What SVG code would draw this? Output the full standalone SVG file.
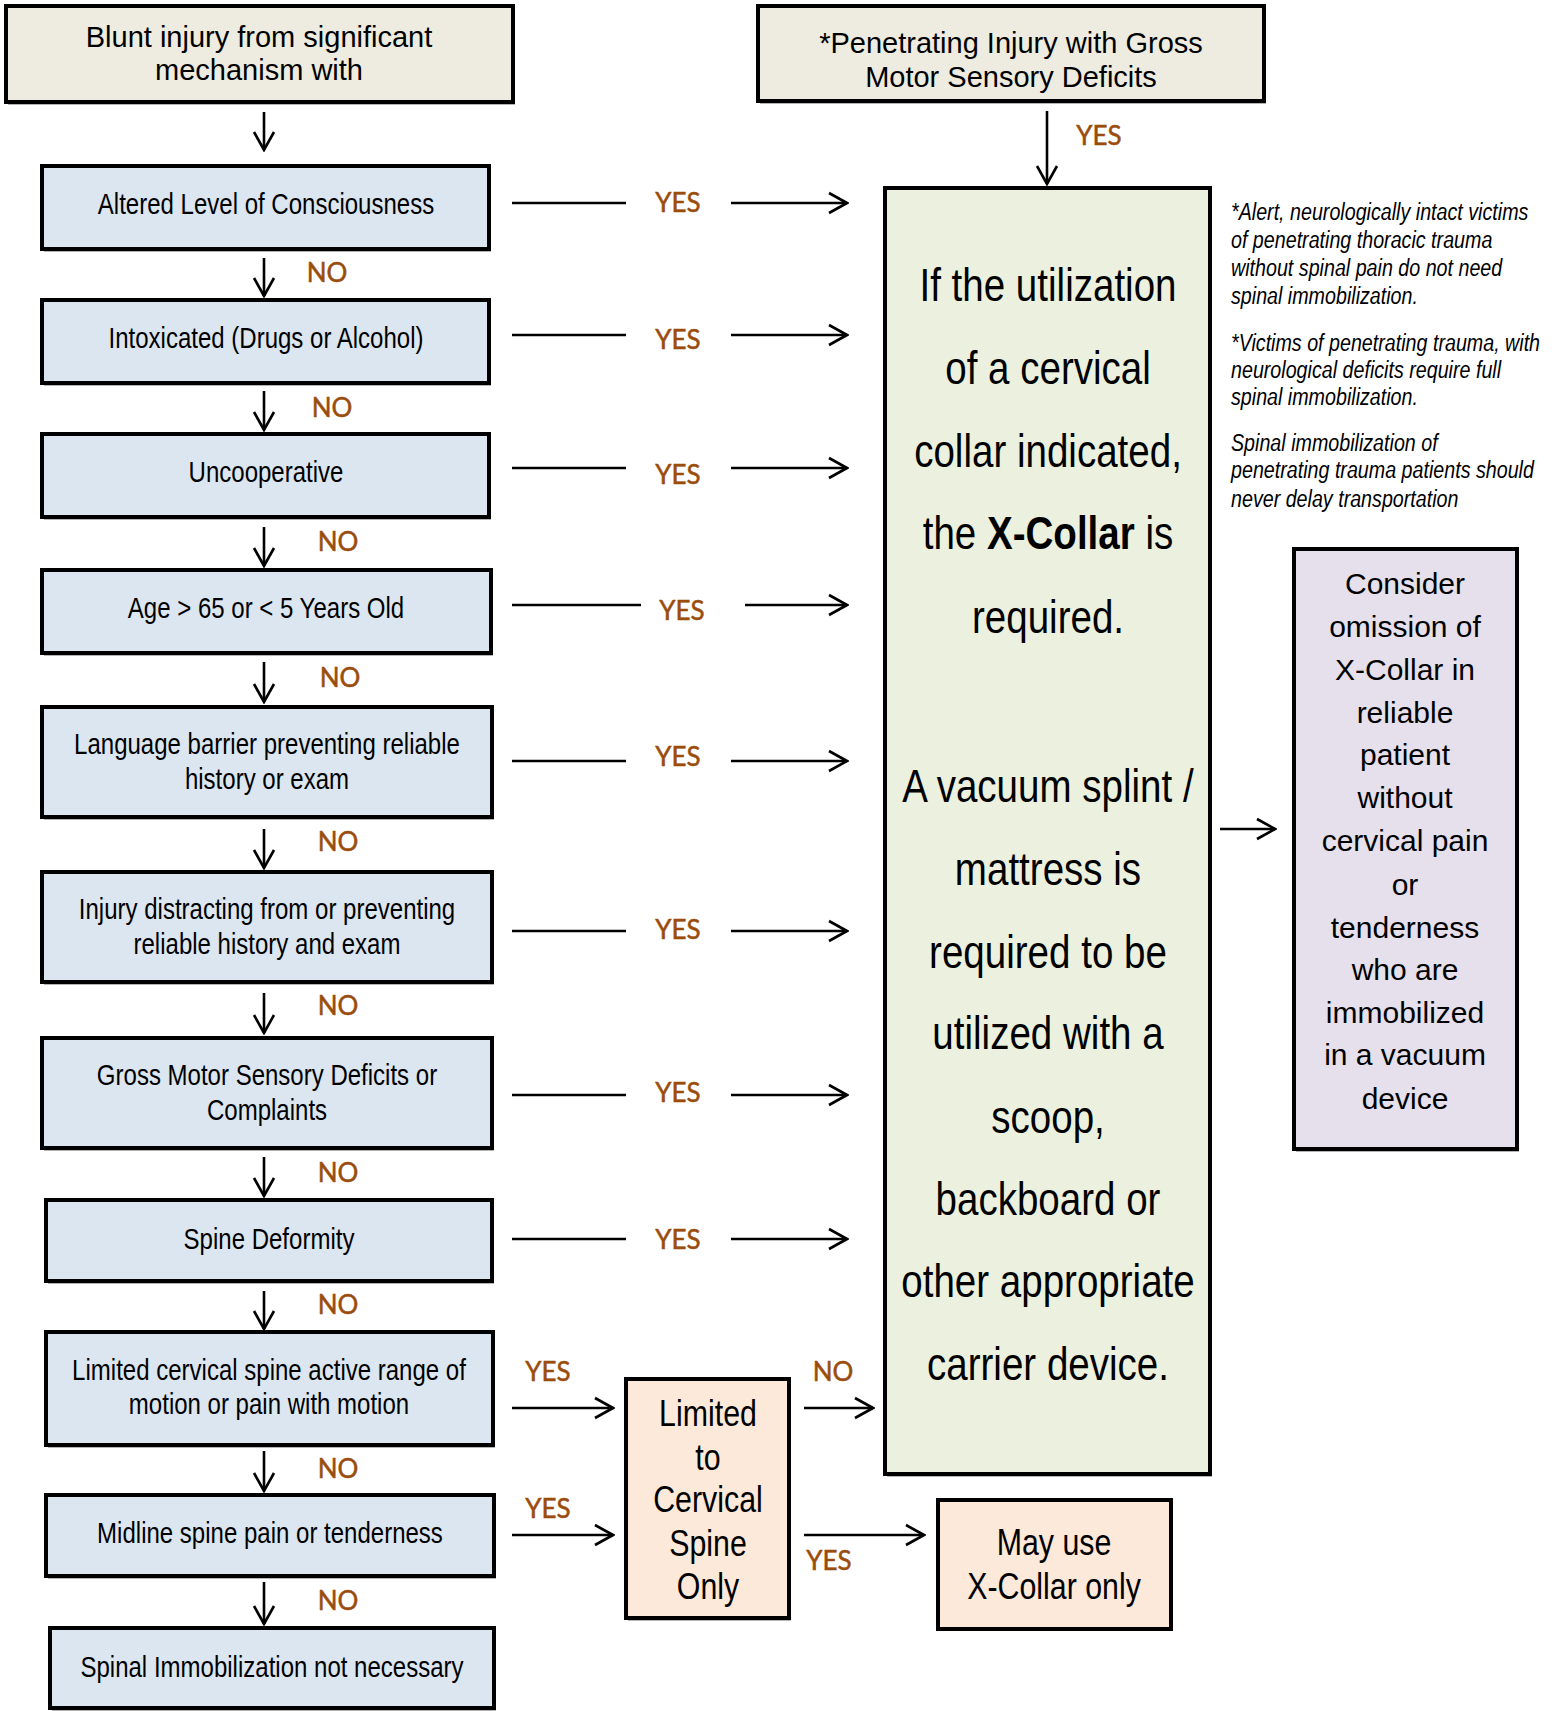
<svg xmlns="http://www.w3.org/2000/svg" width="1554" height="1711" viewBox="0 0 1554 1711">
<defs>
<marker id="ah" markerUnits="userSpaceOnUse" markerWidth="22" markerHeight="24" viewBox="0 0 22 24" refX="20" refY="12" orient="auto">
<path d="M2,2 L20,12 L2,22" fill="none" stroke="#000" stroke-width="2.6"/>
</marker>
<style>
.box{stroke:#000;stroke-width:4}
.sh{fill:#b4b4b4}
.beige{fill:#eeece1}
.blue{fill:#dce6f1}
.green{fill:#ebf1de}
.purple{fill:#e5e0ec}
.peach{fill:#fde9d9}
.t{font-family:"Liberation Sans",Arial,sans-serif;fill:#000;text-anchor:middle}
.n{font-family:"Liberation Sans",Arial,sans-serif;fill:#000;text-anchor:middle}
.nt{font-family:"Liberation Sans",Arial,sans-serif;fill:#000;font-style:italic;font-size:24px}
.lb{font-family:Lato,"Open Sans",sans-serif;fill:#9a4c0c;stroke:#9a4c0c;stroke-width:0.5;font-size:26px;text-anchor:middle}
.c{stroke:#000;stroke-width:2.6;fill:none}
.ca{stroke:#000;stroke-width:2.6;fill:none;marker-end:url(#ah)}
</style>
</defs>

<g id="n-blunt">
<rect class="sh" x="8" y="9" width="507" height="96"/>
<rect class="box beige" x="6" y="6" width="507" height="96"/>
<text class="t" font-size="29" x="259" y="47">Blunt injury from significant</text>
<text class="t" font-size="29" x="259" y="80">mechanism with</text>
</g>
<g id="n-penetrating">
<rect class="sh" x="760" y="9" width="506" height="95"/>
<rect class="box beige" x="758" y="6" width="506" height="95"/>
<text class="t" font-size="29" x="1011" y="53">*Penetrating Injury with Gross</text>
<text class="t" font-size="29" x="1011" y="87">Motor Sensory Deficits</text>
</g>

<g id="n-altered">
<rect class="sh" x="44" y="169" width="447" height="83"/>
<rect class="box blue" x="42" y="166" width="447" height="83"/>
<g transform="translate(266,0) scale(0.82,1)"><text class="n" font-size="29.3" x="0" y="214">Altered Level of Consciousness</text></g>
</g>
<g id="n-intox">
<rect class="sh" x="44" y="303" width="447" height="83"/>
<rect class="box blue" x="42" y="300" width="447" height="83"/>
<g transform="translate(266,0) scale(0.82,1)"><text class="n" font-size="29.3" x="0" y="348">Intoxicated (Drugs or Alcohol)</text></g>
</g>
<g id="n-uncoop">
<rect class="sh" x="44" y="437" width="447" height="83"/>
<rect class="box blue" x="42" y="434" width="447" height="83"/>
<g transform="translate(266,0) scale(0.82,1)"><text class="n" font-size="29.3" x="0" y="482">Uncooperative</text></g>
</g>
<g id="n-age">
<rect class="sh" x="44" y="573" width="449" height="83"/>
<rect class="box blue" x="42" y="570" width="449" height="83"/>
<g transform="translate(266,0) scale(0.82,1)"><text class="n" font-size="29.3" x="0" y="618">Age &gt; 65 or &lt; 5 Years Old</text></g>
</g>
<g id="n-language">
<rect class="sh" x="44" y="710" width="450" height="110"/>
<rect class="box blue" x="42" y="707" width="450" height="110"/>
<g transform="translate(267,0) scale(0.82,1)">
<text class="n" font-size="29.3" x="0" y="754">Language barrier preventing reliable</text>
<text class="n" font-size="29.3" x="0" y="789">history or exam</text>
</g>
</g>
<g id="n-distracting">
<rect class="sh" x="44" y="875" width="450" height="110"/>
<rect class="box blue" x="42" y="872" width="450" height="110"/>
<g transform="translate(267,0) scale(0.82,1)">
<text class="n" font-size="29.3" x="0" y="919">Injury distracting from or preventing</text>
<text class="n" font-size="29.3" x="0" y="954">reliable history and exam</text>
</g>
</g>
<g id="n-gross">
<rect class="sh" x="44" y="1041" width="450" height="110"/>
<rect class="box blue" x="42" y="1038" width="450" height="110"/>
<g transform="translate(267,0) scale(0.82,1)">
<text class="n" font-size="29.3" x="0" y="1085">Gross Motor Sensory Deficits or</text>
<text class="n" font-size="29.3" x="0" y="1120">Complaints</text>
</g>
</g>
<g id="n-deformity">
<rect class="sh" x="48" y="1203" width="446" height="81"/>
<rect class="box blue" x="46" y="1200" width="446" height="81"/>
<g transform="translate(269,0) scale(0.82,1)"><text class="n" font-size="29.3" x="0" y="1249">Spine Deformity</text></g>
</g>
<g id="n-limitedrom">
<rect class="sh" x="48" y="1335" width="447" height="113"/>
<rect class="box blue" x="46" y="1332" width="447" height="113"/>
<g transform="translate(269,0) scale(0.82,1)">
<text class="n" font-size="29.3" x="0" y="1380">Limited cervical spine active range of</text>
<text class="n" font-size="29.3" x="0" y="1414">motion or pain with motion</text>
</g>
</g>
<g id="n-midline">
<rect class="sh" x="48" y="1498" width="448" height="81"/>
<rect class="box blue" x="46" y="1495" width="448" height="81"/>
<g transform="translate(270,0) scale(0.82,1)"><text class="n" font-size="29.3" x="0" y="1543">Midline spine pain or tenderness</text></g>
</g>
<g id="n-notnecessary">
<rect class="sh" x="52" y="1631" width="444" height="80"/>
<rect class="box blue" x="50" y="1628" width="444" height="80"/>
<g transform="translate(272,0) scale(0.82,1)"><text class="n" font-size="29.3" x="0" y="1677">Spinal Immobilization not necessary</text></g>
</g>

<g id="n-xcollar-required">
<rect class="sh" x="887" y="191" width="325" height="1286"/>
<rect class="box green" x="885" y="188" width="325" height="1286"/>
<g class="n" font-size="47" transform="translate(1048,0) scale(0.82,1)">
<text x="0" y="301">If the utilization</text>
<text x="0" y="384">of a cervical</text>
<text x="0" y="467">collar indicated,</text>
<text x="0" y="549">the <tspan font-weight="bold">X-Collar</tspan> is</text>
<text x="0" y="633">required.</text>
<text x="0" y="802">A vacuum splint /</text>
<text x="0" y="885">mattress is</text>
<text x="0" y="968">required to be</text>
<text x="0" y="1049">utilized with a</text>
<text x="0" y="1133">scoop,</text>
<text x="0" y="1215">backboard or</text>
<text x="0" y="1297">other appropriate</text>
<text x="0" y="1380">carrier device.</text>
</g>
</g>

<g id="notes">
<g transform="translate(1231,0) scale(0.82,1)">
<text class="nt" x="0" y="220">*Alert, neurologically intact victims</text>
<text class="nt" x="0" y="248">of penetrating thoracic trauma</text>
<text class="nt" x="0" y="276">without spinal pain do not need</text>
<text class="nt" x="0" y="304">spinal immobilization.</text>
<text class="nt" x="0" y="351">*Victims of penetrating trauma, with</text>
<text class="nt" x="0" y="378">neurological deficits require full</text>
<text class="nt" x="0" y="405">spinal immobilization.</text>
<text class="nt" x="0" y="451">Spinal immobilization of</text>
<text class="nt" x="0" y="478">penetrating trauma patients should</text>
<text class="nt" x="0" y="507">never delay transportation</text>
</g>
</g>

<g id="n-consider-omission">
<rect class="sh" x="1296" y="552" width="223" height="600"/>
<rect class="box purple" x="1294" y="549" width="223" height="600"/>
<g class="t" font-size="30">
<text x="1405" y="594">Consider</text>
<text x="1405" y="637">omission of</text>
<text x="1405" y="680">X-Collar in</text>
<text x="1405" y="723">reliable</text>
<text x="1405" y="765">patient</text>
<text x="1405" y="808">without</text>
<text x="1405" y="851">cervical pain</text>
<text x="1405" y="895">or</text>
<text x="1405" y="938">tenderness</text>
<text x="1405" y="980">who are</text>
<text x="1405" y="1023">immobilized</text>
<text x="1405" y="1065">in a vacuum</text>
<text x="1405" y="1109">device</text>
</g>
</g>

<g id="n-cervical-only">
<rect class="sh" x="628" y="1382" width="163" height="239"/>
<rect class="box peach" x="626" y="1379" width="163" height="239"/>
<g class="n" font-size="37" transform="translate(708,0) scale(0.82,1)">
<text x="0" y="1426">Limited</text>
<text x="0" y="1470">to</text>
<text x="0" y="1512">Cervical</text>
<text x="0" y="1556">Spine</text>
<text x="0" y="1599">Only</text>
</g>
</g>
<g id="n-may-use">
<rect class="box peach" x="938" y="1500" width="233" height="129"/>
<g class="n" font-size="37" transform="translate(1054,0) scale(0.82,1)">
<text x="0" y="1555">May use</text>
<text x="0" y="1599">X-Collar only</text>
</g>
</g>

<g id="connectors">
<line class="ca" x1="264" y1="112" x2="264" y2="150"/>
<line class="ca" x1="264" y1="258" x2="264" y2="296"/>
<line class="ca" x1="264" y1="391" x2="264" y2="430"/>
<line class="ca" x1="264" y1="527" x2="264" y2="566"/>
<line class="ca" x1="264" y1="662" x2="264" y2="702"/>
<line class="ca" x1="264" y1="829" x2="264" y2="868"/>
<line class="ca" x1="264" y1="993" x2="264" y2="1033"/>
<line class="ca" x1="264" y1="1157" x2="264" y2="1196"/>
<line class="ca" x1="264" y1="1291" x2="264" y2="1329"/>
<line class="ca" x1="264" y1="1451" x2="264" y2="1491"/>
<line class="ca" x1="264" y1="1582" x2="264" y2="1624"/>
<line class="ca" x1="1047" y1="111" x2="1047" y2="184"/>

<line class="c" x1="512" y1="203" x2="626" y2="203"/><line class="ca" x1="731" y1="203" x2="847" y2="203"/>
<line class="c" x1="512" y1="335" x2="626" y2="335"/><line class="ca" x1="731" y1="335" x2="847" y2="335"/>
<line class="c" x1="512" y1="468" x2="626" y2="468"/><line class="ca" x1="731" y1="468" x2="847" y2="468"/>
<line class="c" x1="512" y1="605" x2="641" y2="605"/><line class="ca" x1="745" y1="605" x2="847" y2="605"/>
<line class="c" x1="512" y1="761" x2="626" y2="761"/><line class="ca" x1="731" y1="761" x2="847" y2="761"/>
<line class="c" x1="512" y1="931" x2="626" y2="931"/><line class="ca" x1="731" y1="931" x2="847" y2="931"/>
<line class="c" x1="512" y1="1095" x2="626" y2="1095"/><line class="ca" x1="731" y1="1095" x2="847" y2="1095"/>
<line class="c" x1="512" y1="1239" x2="626" y2="1239"/><line class="ca" x1="731" y1="1239" x2="847" y2="1239"/>

<line class="ca" x1="512" y1="1408" x2="613" y2="1408"/>
<line class="ca" x1="512" y1="1535" x2="613" y2="1535"/>
<line class="ca" x1="804" y1="1408" x2="873" y2="1408"/>
<line class="ca" x1="804" y1="1535" x2="924" y2="1535"/>
<line class="ca" x1="1220" y1="829" x2="1275" y2="829"/>

<text class="lb" x="1099" y="145">YES</text>
<text class="lb" x="678" y="212">YES</text>
<text class="lb" x="678" y="349">YES</text>
<text class="lb" x="678" y="484">YES</text>
<text class="lb" x="682" y="620">YES</text>
<text class="lb" x="678" y="766">YES</text>
<text class="lb" x="678" y="939">YES</text>
<text class="lb" x="678" y="1102">YES</text>
<text class="lb" x="678" y="1249">YES</text>
<text class="lb" x="548" y="1381">YES</text>
<text class="lb" x="548" y="1518">YES</text>
<text class="lb" x="833" y="1381">NO</text>
<text class="lb" x="829" y="1570">YES</text>

<text class="lb" x="327" y="282">NO</text>
<text class="lb" x="332" y="417">NO</text>
<text class="lb" x="338" y="551">NO</text>
<text class="lb" x="340" y="687">NO</text>
<text class="lb" x="338" y="851">NO</text>
<text class="lb" x="338" y="1015">NO</text>
<text class="lb" x="338" y="1182">NO</text>
<text class="lb" x="338" y="1314">NO</text>
<text class="lb" x="338" y="1478">NO</text>
<text class="lb" x="338" y="1610">NO</text>
</g>
</svg>
